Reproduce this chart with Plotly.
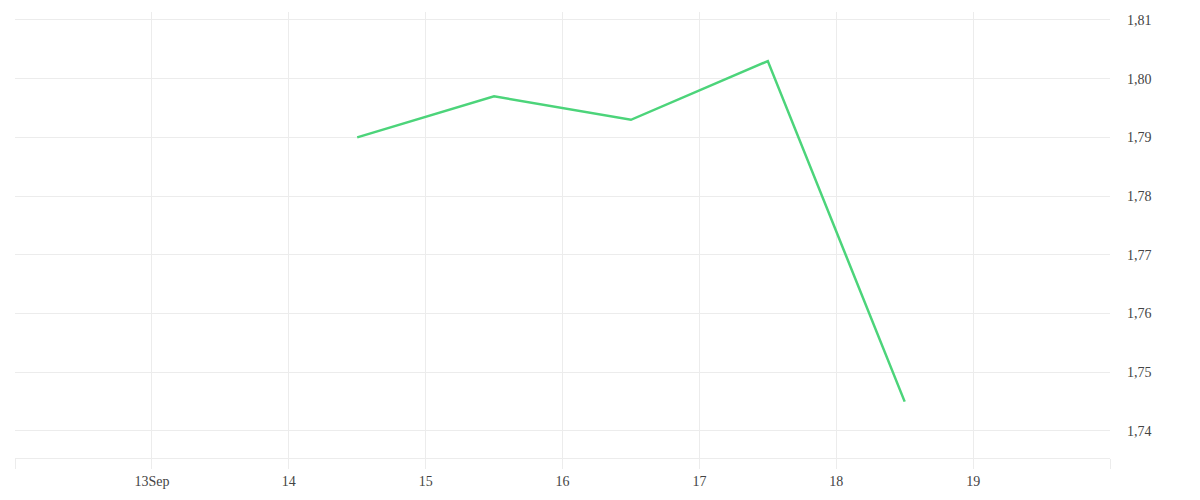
import plotly.graph_objects as go

# daily values, plotted at midday
dates = ["2023-09-14 12:00", "2023-09-15 12:00", "2023-09-16 12:00",
         "2023-09-17 12:00", "2023-09-18 12:00"]
values = [1.790, 1.797, 1.793, 1.803, 1.745]

tick_dates = ["2023-09-12", "2023-09-13", "2023-09-14", "2023-09-15",
              "2023-09-16", "2023-09-17", "2023-09-18", "2023-09-19", "2023-09-20"]
tick_text = ["", "13Sep", "14", "15", "16", "17", "18", "19", ""]

grid = "#ececec"

fig = go.Figure()
fig.add_trace(go.Scatter(x=dates, y=values, mode="lines",
                         line=dict(color="#4cd47a", width=2.5),
                         showlegend=False))

fig.update_layout(
    width=1200, height=500,
    margin=dict(l=7, r=98, t=4, b=50),
    plot_bgcolor="white", paper_bgcolor="white",
    separators=",.",
    font=dict(family="Liberation Serif", size=14, color="#444444"),
    xaxis=dict(
        range=["2023-09-12", "2023-09-20"],
        tickvals=tick_dates, ticktext=tick_text,
        showgrid=True, gridcolor=grid, gridwidth=1,
        ticks="outside", ticklen=10, tickcolor=grid,
        showline=True, linecolor=grid, linewidth=1,
        zeroline=False,
    ),
    yaxis=dict(
        side="right",
        range=[1.7354, 1.81136],
        tickvals=[1.74, 1.75, 1.76, 1.77, 1.78, 1.79, 1.80, 1.81],
        tickformat=".2f",
        showgrid=True, gridcolor=grid, gridwidth=1,
        ticks="", ticklabelstandoff=16,
        showline=False, zeroline=False,
    ),
)

fig.write_html("out.html")
